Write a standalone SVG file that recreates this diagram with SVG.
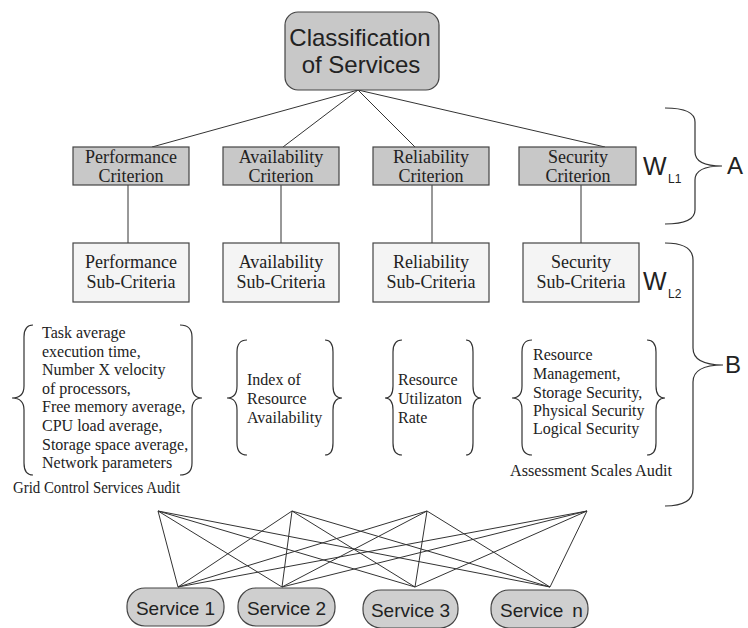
<svg xmlns="http://www.w3.org/2000/svg" width="748" height="628" viewBox="0 0 748 628">
<style>
.root{fill:#c8c8c8;stroke:#444;stroke-width:1.2}
.crit{fill:#c8c8c8;stroke:#444;stroke-width:1.2}
.sub{fill:#f4f4f4;stroke:#444;stroke-width:1.2}
.svc{fill:#cfcfcf;stroke:#444;stroke-width:1.2}
.sans{font-family:"Liberation Sans",Arial,sans-serif;fill:#222}
.serif{font-family:"Liberation Serif","Times New Roman",serif;fill:#222}
.bt{font-size:18px;text-anchor:middle}
.lt{font-size:16px}
.br{fill:none;stroke:#333;stroke-width:1.2}
.ln{stroke:#333;stroke-width:1;fill:none}
</style>
<g id="connectors">
<line class="ln" x1="358" y1="90" x2="152" y2="147"/>
<line class="ln" x1="358" y1="90" x2="283" y2="147"/>
<line class="ln" x1="358" y1="90" x2="415" y2="147"/>
<line class="ln" x1="358" y1="90" x2="605" y2="147"/>
<line class="ln" x1="128" y1="185" x2="128" y2="243"/>
<line class="ln" x1="281" y1="185" x2="281" y2="243"/>
<line class="ln" x1="432" y1="185" x2="432" y2="243"/>
<line class="ln" x1="581" y1="185" x2="581" y2="243"/>
<path class="ln" d="M158,511L178,587M158,511L282,587M158,511L415,587M158,511L550,587"/>
<path class="ln" d="M292,511L178,587M292,511L282,587M292,511L415,587M292,511L550,587"/>
<path class="ln" d="M427,511L178,587M427,511L282,587M427,511L415,587M427,511L550,587"/>
<path class="ln" d="M587,511L178,587M587,511L282,587M587,511L415,587M587,511L550,587"/>
</g>
<g id="root">
<rect class="root" x="285" y="12" width="154" height="78" rx="13"/>
<text class="sans" x="360" y="46" font-size="24" text-anchor="middle">Classification</text>
<text class="sans" x="361" y="73" font-size="24" text-anchor="middle">of Services</text>
</g>
<g id="perf-crit">
<rect class="crit" x="73" y="147" width="116" height="38"/>
<text class="serif bt" x="131" y="163">Performance</text>
<text class="serif bt" x="131" y="182">Criterion</text>
</g>
<g id="avail-crit">
<rect class="crit" x="223" y="147" width="116" height="38"/>
<text class="serif bt" x="281" y="163">Availability</text>
<text class="serif bt" x="281" y="182">Criterion</text>
</g>
<g id="rel-crit">
<rect class="crit" x="373" y="147" width="116" height="38"/>
<text class="serif bt" x="431" y="163">Reliability</text>
<text class="serif bt" x="431" y="182">Criterion</text>
</g>
<g id="sec-crit">
<rect class="crit" x="519" y="147" width="117" height="38"/>
<text class="serif bt" x="578" y="163">Security</text>
<text class="serif bt" x="578" y="182">Criterion</text>
</g>
<g id="perf-sub">
<rect class="sub" x="73" y="243" width="116" height="59"/>
<text class="serif bt" x="131" y="268">Performance</text>
<text class="serif bt" x="131" y="288">Sub-Criteria</text>
</g>
<g id="avail-sub">
<rect class="sub" x="223" y="243" width="116" height="59"/>
<text class="serif bt" x="281" y="268">Availability</text>
<text class="serif bt" x="281" y="288">Sub-Criteria</text>
</g>
<g id="rel-sub">
<rect class="sub" x="373" y="243" width="116" height="59"/>
<text class="serif bt" x="431" y="268">Reliability</text>
<text class="serif bt" x="431" y="288">Sub-Criteria</text>
</g>
<g id="sec-sub">
<rect class="sub" x="523" y="243" width="116" height="59"/>
<text class="serif bt" x="581" y="268">Security</text>
<text class="serif bt" x="581" y="288">Sub-Criteria</text>
</g>
<g id="weights">
<text class="sans" x="643" y="175" font-size="25">W</text>
<text class="sans" x="668" y="183" font-size="12">L1</text>
<text class="sans" x="643" y="290" font-size="25">W</text>
<text class="sans" x="668" y="298" font-size="12">L2</text>
</g>
<g id="brace-A">
<path class="br" d="M665,108 Q695,108 695,122 L695,152 Q695,166 722,166 Q695,166 695,180 L695,210 Q695,224 665,224"/>
<text class="sans" x="727" y="174" font-size="24">A</text>
</g>
<g id="brace-B">
<path class="br" d="M665,243 Q693,243 693,260 L693,348 Q693,365 723,365 Q693,365 693,382 L693,489 Q693,506 665,506"/>
<text class="sans" x="725" y="373" font-size="24">B</text>
</g>
<g id="perf-list">
<path class="br" d="M33,325 Q24,325 24,337 L24,386 Q24,398 12,398 Q24,398 24,410 L24,463 Q24,475 33,475"/>
<path class="br" d="M180,325 Q192,325 192,337 L192,386 Q192,398 202,398 Q192,398 192,410 L192,463 Q192,475 180,475"/>
<text class="serif lt" x="42" y="338">Task average</text>
<text class="serif lt" x="42" y="356.6">execution time,</text>
<text class="serif lt" x="42" y="375.2">Number X velocity</text>
<text class="serif lt" x="42" y="393.8">of processors,</text>
<text class="serif lt" x="42" y="412.4">Free memory average,</text>
<text class="serif lt" x="42" y="431">CPU load average,</text>
<text class="serif lt" x="42" y="449.6">Storage space average,</text>
<text class="serif lt" x="42" y="468.2">Network parameters</text>
<text class="serif" x="13" y="493" font-size="16" textLength="167" lengthAdjust="spacingAndGlyphs">Grid Control Services Audit</text>
</g>
<g id="avail-list">
<path class="br" d="M247,340 Q237,340 237,352 L237,386 Q237,398 227,398 Q237,398 237,410 L237,443 Q237,455 247,455"/>
<path class="br" d="M325,340 Q333,340 333,352 L333,386 Q333,398 342,398 Q333,398 333,410 L333,443 Q333,455 325,455"/>
<text class="serif lt" x="247" y="385">Index of</text>
<text class="serif lt" x="247" y="404">Resource</text>
<text class="serif lt" x="247" y="423">Availability</text>
</g>
<g id="rel-list">
<path class="br" d="M402,340 Q393,340 393,352 L393,386 Q393,398 385,398 Q393,398 393,410 L393,443 Q393,455 402,455"/>
<path class="br" d="M466,340 Q473,340 473,352 L473,386 Q473,398 481,398 Q473,398 473,410 L473,443 Q473,455 466,455"/>
<text class="serif lt" x="398" y="385">Resource</text>
<text class="serif lt" x="398" y="404">Utilizaton</text>
<text class="serif lt" x="398" y="423">Rate</text>
</g>
<g id="sec-list">
<path class="br" d="M532,340 Q522,340 522,352 L522,386 Q522,398 512,398 Q522,398 522,410 L522,443 Q522,455 532,455"/>
<path class="br" d="M647,340 Q656,340 656,352 L656,386 Q656,398 665,398 Q656,398 656,410 L656,443 Q656,455 647,455"/>
<text class="serif lt" x="533" y="360">Resource</text>
<text class="serif lt" x="533" y="379">Management,</text>
<text class="serif lt" x="533" y="398">Storage  Security,</text>
<text class="serif lt" x="533" y="416">Physical  Security</text>
<text class="serif lt" x="533" y="434">Logical Security</text>
<text class="serif" x="510" y="476" font-size="16" textLength="162" lengthAdjust="spacingAndGlyphs">Assessment Scales Audit</text>
</g>
<g id="service-1">
<rect class="svc" x="127" y="588" width="97" height="38" rx="18"/>
<text class="sans" x="175.5" y="615" font-size="19" text-anchor="middle">Service 1</text>
</g>
<g id="service-2">
<rect class="svc" x="238" y="588" width="97" height="38" rx="18"/>
<text class="sans" x="286.5" y="615" font-size="19" text-anchor="middle">Service 2</text>
</g>
<g id="service-3">
<rect class="svc" x="363" y="590" width="95" height="38" rx="18"/>
<text class="sans" x="410.5" y="617" font-size="19" text-anchor="middle">Service 3</text>
</g>
<g id="service-n">
<rect class="svc" x="491" y="590" width="97" height="38" rx="18"/>
<text class="sans" x="500" y="617" font-size="19">Service<tspan dx="9">n</tspan></text>
</g>
</svg>
